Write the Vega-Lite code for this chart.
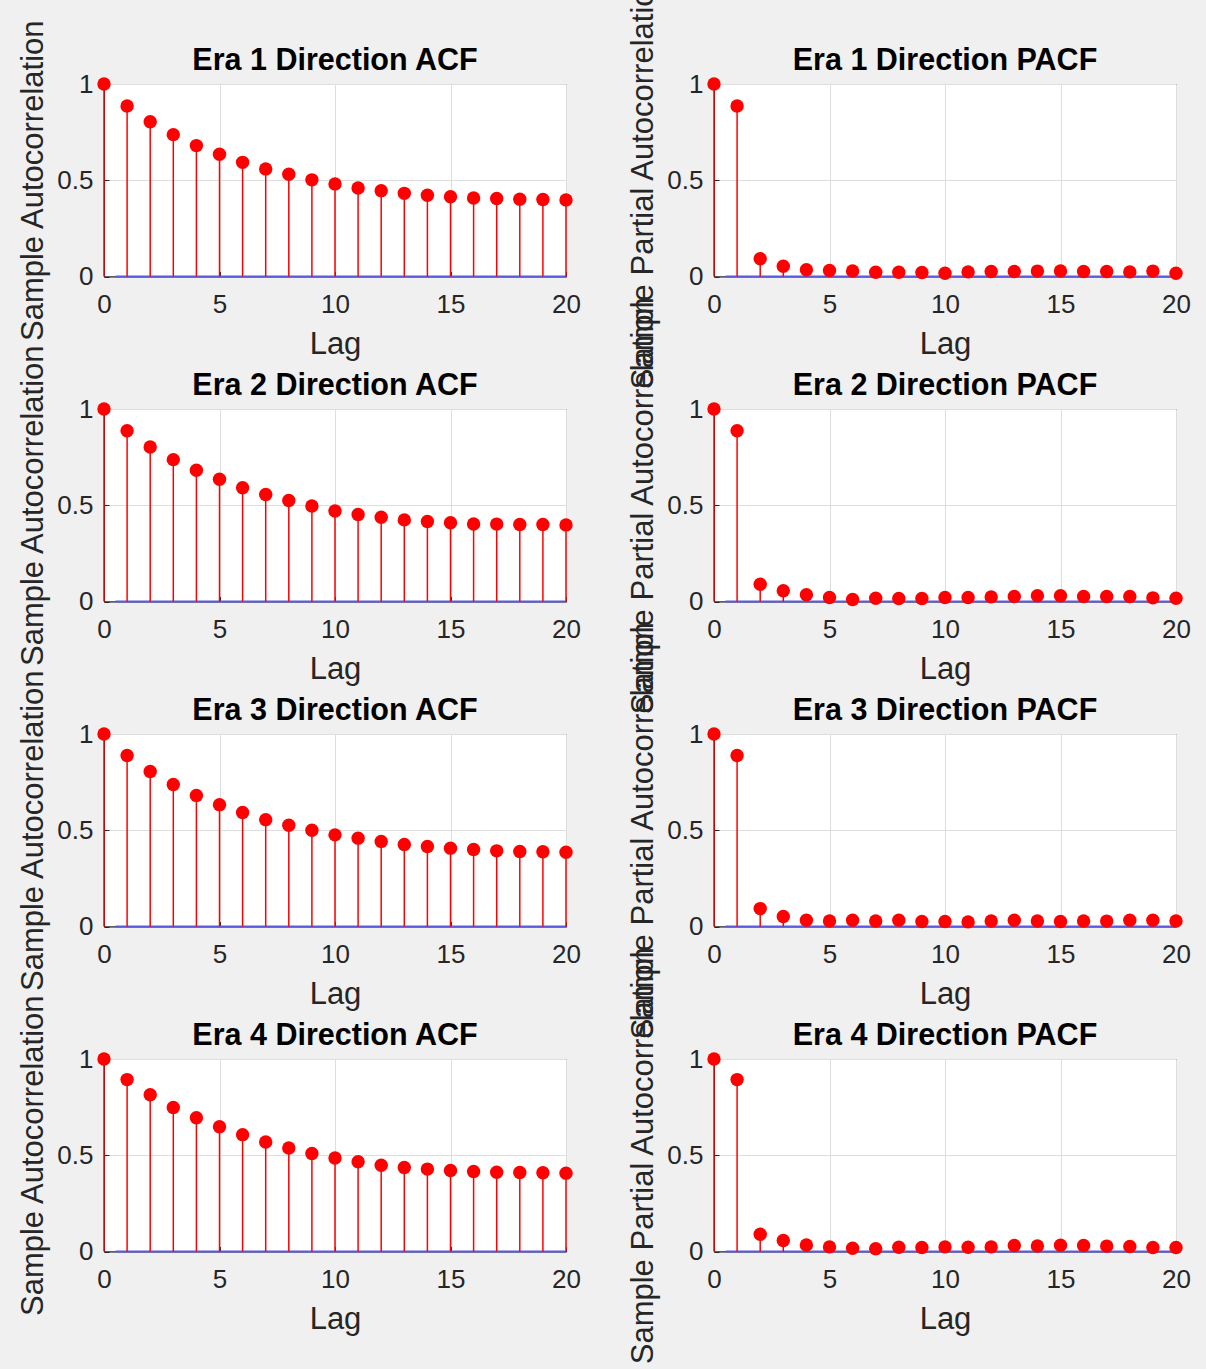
{
  "$schema": "https://vega.github.io/schema/vega-lite/v6.json",
  "background": "#f0f0f0",
  "padding": {"left": 17, "top": -30, "right": 20, "bottom": 5},
  "datasets": {
    "bounds": [{"lag": 0.5, "lagEnd": 20, "value": 0}],
    "acf": [
      {"era":1,"fn":"ACF","lag":0,"value":1},{"era":1,"fn":"ACF","lag":1,"value":0.886},{"era":1,"fn":"ACF","lag":2,"value":0.804},{"era":1,"fn":"ACF","lag":3,"value":0.737},{"era":1,"fn":"ACF","lag":4,"value":0.680},{"era":1,"fn":"ACF","lag":5,"value":0.635},{"era":1,"fn":"ACF","lag":6,"value":0.593},{"era":1,"fn":"ACF","lag":7,"value":0.559},{"era":1,"fn":"ACF","lag":8,"value":0.531},{"era":1,"fn":"ACF","lag":9,"value":0.502},{"era":1,"fn":"ACF","lag":10,"value":0.481},{"era":1,"fn":"ACF","lag":11,"value":0.460},{"era":1,"fn":"ACF","lag":12,"value":0.446},{"era":1,"fn":"ACF","lag":13,"value":0.432},{"era":1,"fn":"ACF","lag":14,"value":0.422},{"era":1,"fn":"ACF","lag":15,"value":0.414},{"era":1,"fn":"ACF","lag":16,"value":0.408},{"era":1,"fn":"ACF","lag":17,"value":0.405},{"era":1,"fn":"ACF","lag":18,"value":0.401},{"era":1,"fn":"ACF","lag":19,"value":0.400},{"era":1,"fn":"ACF","lag":20,"value":0.398},
      {"era":2,"fn":"ACF","lag":0,"value":1},{"era":2,"fn":"ACF","lag":1,"value":0.887},{"era":2,"fn":"ACF","lag":2,"value":0.803},{"era":2,"fn":"ACF","lag":3,"value":0.737},{"era":2,"fn":"ACF","lag":4,"value":0.682},{"era":2,"fn":"ACF","lag":5,"value":0.635},{"era":2,"fn":"ACF","lag":6,"value":0.591},{"era":2,"fn":"ACF","lag":7,"value":0.556},{"era":2,"fn":"ACF","lag":8,"value":0.525},{"era":2,"fn":"ACF","lag":9,"value":0.496},{"era":2,"fn":"ACF","lag":10,"value":0.470},{"era":2,"fn":"ACF","lag":11,"value":0.452},{"era":2,"fn":"ACF","lag":12,"value":0.438},{"era":2,"fn":"ACF","lag":13,"value":0.424},{"era":2,"fn":"ACF","lag":14,"value":0.416},{"era":2,"fn":"ACF","lag":15,"value":0.409},{"era":2,"fn":"ACF","lag":16,"value":0.403},{"era":2,"fn":"ACF","lag":17,"value":0.402},{"era":2,"fn":"ACF","lag":18,"value":0.400},{"era":2,"fn":"ACF","lag":19,"value":0.400},{"era":2,"fn":"ACF","lag":20,"value":0.398},
      {"era":3,"fn":"ACF","lag":0,"value":1},{"era":3,"fn":"ACF","lag":1,"value":0.888},{"era":3,"fn":"ACF","lag":2,"value":0.805},{"era":3,"fn":"ACF","lag":3,"value":0.738},{"era":3,"fn":"ACF","lag":4,"value":0.681},{"era":3,"fn":"ACF","lag":5,"value":0.633},{"era":3,"fn":"ACF","lag":6,"value":0.592},{"era":3,"fn":"ACF","lag":7,"value":0.555},{"era":3,"fn":"ACF","lag":8,"value":0.526},{"era":3,"fn":"ACF","lag":9,"value":0.500},{"era":3,"fn":"ACF","lag":10,"value":0.476},{"era":3,"fn":"ACF","lag":11,"value":0.459},{"era":3,"fn":"ACF","lag":12,"value":0.442},{"era":3,"fn":"ACF","lag":13,"value":0.426},{"era":3,"fn":"ACF","lag":14,"value":0.416},{"era":3,"fn":"ACF","lag":15,"value":0.407},{"era":3,"fn":"ACF","lag":16,"value":0.400},{"era":3,"fn":"ACF","lag":17,"value":0.393},{"era":3,"fn":"ACF","lag":18,"value":0.390},{"era":3,"fn":"ACF","lag":19,"value":0.388},{"era":3,"fn":"ACF","lag":20,"value":0.386},
      {"era":4,"fn":"ACF","lag":0,"value":1},{"era":4,"fn":"ACF","lag":1,"value":0.893},{"era":4,"fn":"ACF","lag":2,"value":0.814},{"era":4,"fn":"ACF","lag":3,"value":0.748},{"era":4,"fn":"ACF","lag":4,"value":0.695},{"era":4,"fn":"ACF","lag":5,"value":0.648},{"era":4,"fn":"ACF","lag":6,"value":0.607},{"era":4,"fn":"ACF","lag":7,"value":0.569},{"era":4,"fn":"ACF","lag":8,"value":0.538},{"era":4,"fn":"ACF","lag":9,"value":0.509},{"era":4,"fn":"ACF","lag":10,"value":0.486},{"era":4,"fn":"ACF","lag":11,"value":0.466},{"era":4,"fn":"ACF","lag":12,"value":0.448},{"era":4,"fn":"ACF","lag":13,"value":0.436},{"era":4,"fn":"ACF","lag":14,"value":0.428},{"era":4,"fn":"ACF","lag":15,"value":0.421},{"era":4,"fn":"ACF","lag":16,"value":0.416},{"era":4,"fn":"ACF","lag":17,"value":0.412},{"era":4,"fn":"ACF","lag":18,"value":0.410},{"era":4,"fn":"ACF","lag":19,"value":0.409},{"era":4,"fn":"ACF","lag":20,"value":0.407},
      {"era":1,"fn":"PACF","lag":0,"value":1},{"era":1,"fn":"PACF","lag":1,"value":0.886},{"era":1,"fn":"PACF","lag":2,"value":0.092},{"era":1,"fn":"PACF","lag":3,"value":0.053},{"era":1,"fn":"PACF","lag":4,"value":0.035},{"era":1,"fn":"PACF","lag":5,"value":0.031},{"era":1,"fn":"PACF","lag":6,"value":0.029},{"era":1,"fn":"PACF","lag":7,"value":0.022},{"era":1,"fn":"PACF","lag":8,"value":0.022},{"era":1,"fn":"PACF","lag":9,"value":0.021},{"era":1,"fn":"PACF","lag":10,"value":0.017},{"era":1,"fn":"PACF","lag":11,"value":0.024},{"era":1,"fn":"PACF","lag":12,"value":0.026},{"era":1,"fn":"PACF","lag":13,"value":0.026},{"era":1,"fn":"PACF","lag":14,"value":0.028},{"era":1,"fn":"PACF","lag":15,"value":0.029},{"era":1,"fn":"PACF","lag":16,"value":0.026},{"era":1,"fn":"PACF","lag":17,"value":0.026},{"era":1,"fn":"PACF","lag":18,"value":0.024},{"era":1,"fn":"PACF","lag":19,"value":0.028},{"era":1,"fn":"PACF","lag":20,"value":0.017},
      {"era":2,"fn":"PACF","lag":0,"value":1},{"era":2,"fn":"PACF","lag":1,"value":0.887},{"era":2,"fn":"PACF","lag":2,"value":0.090},{"era":2,"fn":"PACF","lag":3,"value":0.056},{"era":2,"fn":"PACF","lag":4,"value":0.035},{"era":2,"fn":"PACF","lag":5,"value":0.021},{"era":2,"fn":"PACF","lag":6,"value":0.010},{"era":2,"fn":"PACF","lag":7,"value":0.017},{"era":2,"fn":"PACF","lag":8,"value":0.016},{"era":2,"fn":"PACF","lag":9,"value":0.016},{"era":2,"fn":"PACF","lag":10,"value":0.021},{"era":2,"fn":"PACF","lag":11,"value":0.021},{"era":2,"fn":"PACF","lag":12,"value":0.024},{"era":2,"fn":"PACF","lag":13,"value":0.026},{"era":2,"fn":"PACF","lag":14,"value":0.030},{"era":2,"fn":"PACF","lag":15,"value":0.030},{"era":2,"fn":"PACF","lag":16,"value":0.026},{"era":2,"fn":"PACF","lag":17,"value":0.026},{"era":2,"fn":"PACF","lag":18,"value":0.026},{"era":2,"fn":"PACF","lag":19,"value":0.019},{"era":2,"fn":"PACF","lag":20,"value":0.017},
      {"era":3,"fn":"PACF","lag":0,"value":1},{"era":3,"fn":"PACF","lag":1,"value":0.888},{"era":3,"fn":"PACF","lag":2,"value":0.093},{"era":3,"fn":"PACF","lag":3,"value":0.052},{"era":3,"fn":"PACF","lag":4,"value":0.033},{"era":3,"fn":"PACF","lag":5,"value":0.029},{"era":3,"fn":"PACF","lag":6,"value":0.033},{"era":3,"fn":"PACF","lag":7,"value":0.029},{"era":3,"fn":"PACF","lag":8,"value":0.033},{"era":3,"fn":"PACF","lag":9,"value":0.026},{"era":3,"fn":"PACF","lag":10,"value":0.026},{"era":3,"fn":"PACF","lag":11,"value":0.024},{"era":3,"fn":"PACF","lag":12,"value":0.029},{"era":3,"fn":"PACF","lag":13,"value":0.033},{"era":3,"fn":"PACF","lag":14,"value":0.029},{"era":3,"fn":"PACF","lag":15,"value":0.026},{"era":3,"fn":"PACF","lag":16,"value":0.029},{"era":3,"fn":"PACF","lag":17,"value":0.028},{"era":3,"fn":"PACF","lag":18,"value":0.033},{"era":3,"fn":"PACF","lag":19,"value":0.033},{"era":3,"fn":"PACF","lag":20,"value":0.029},
      {"era":4,"fn":"PACF","lag":0,"value":1},{"era":4,"fn":"PACF","lag":1,"value":0.893},{"era":4,"fn":"PACF","lag":2,"value":0.090},{"era":4,"fn":"PACF","lag":3,"value":0.057},{"era":4,"fn":"PACF","lag":4,"value":0.034},{"era":4,"fn":"PACF","lag":5,"value":0.024},{"era":4,"fn":"PACF","lag":6,"value":0.017},{"era":4,"fn":"PACF","lag":7,"value":0.014},{"era":4,"fn":"PACF","lag":8,"value":0.022},{"era":4,"fn":"PACF","lag":9,"value":0.021},{"era":4,"fn":"PACF","lag":10,"value":0.024},{"era":4,"fn":"PACF","lag":11,"value":0.022},{"era":4,"fn":"PACF","lag":12,"value":0.024},{"era":4,"fn":"PACF","lag":13,"value":0.031},{"era":4,"fn":"PACF","lag":14,"value":0.029},{"era":4,"fn":"PACF","lag":15,"value":0.033},{"era":4,"fn":"PACF","lag":16,"value":0.031},{"era":4,"fn":"PACF","lag":17,"value":0.028},{"era":4,"fn":"PACF","lag":18,"value":0.026},{"era":4,"fn":"PACF","lag":19,"value":0.021},{"era":4,"fn":"PACF","lag":20,"value":0.021}
    ]
  },
  "columns": 2,
  "bounds": "flush",
  "spacing": {"row": 132, "column": 148},
  "concat": [
    {
      "title": {"text": "Era 1 Direction ACF", "offset": -57}, "width": 462, "height": 192.5,
      "encoding": {
        "x": {"field": "lag", "type": "quantitative", "scale": {"domain": [0, 20], "nice": false, "zero": false}, "axis": {"title": "Lag", "values": [0, 5, 10, 15, 20], "format": "d"}},
        "y": {"field": "value", "type": "quantitative", "scale": {"domain": [0, 1], "nice": false}, "axis": {"title": "Sample Autocorrelation", "values": [0, 0.5, 1], "format": "~g"}}
      },
      "layer": [
        {"data": {"name": "bounds"}, "mark": {"type": "rule", "color": "#5b5be0", "strokeWidth": 2}, "encoding": {"x2": {"field": "lagEnd"}}},
        {"data": {"name": "acf"}, "transform": [{"filter": "datum.era === 1 && datum.fn === 'ACF'"}], "mark": {"type": "rule", "color": "#ff0000", "strokeWidth": 1.5}, "encoding": {"y2": {"datum": 0}}},
        {"data": {"name": "acf"}, "transform": [{"filter": "datum.era === 1 && datum.fn === 'ACF'"}], "mark": {"type": "circle", "color": "#ff0000", "size": 180, "opacity": 1}}
      ]
    },
    {
      "title": {"text": "Era 1 Direction PACF", "offset": -106}, "width": 462, "height": 192.5,
      "encoding": {
        "x": {"field": "lag", "type": "quantitative", "scale": {"domain": [0, 20], "nice": false, "zero": false}, "axis": {"title": "Lag", "values": [0, 5, 10, 15, 20], "format": "d"}},
        "y": {"field": "value", "type": "quantitative", "scale": {"domain": [0, 1], "nice": false}, "axis": {"title": "Sample Partial Autocorrelation", "values": [0, 0.5, 1], "format": "~g"}}
      },
      "layer": [
        {"data": {"name": "bounds"}, "mark": {"type": "rule", "color": "#5b5be0", "strokeWidth": 2}, "encoding": {"x2": {"field": "lagEnd"}}},
        {"data": {"name": "acf"}, "transform": [{"filter": "datum.era === 1 && datum.fn === 'PACF'"}], "mark": {"type": "rule", "color": "#ff0000", "strokeWidth": 1.5}, "encoding": {"y2": {"datum": 0}}},
        {"data": {"name": "acf"}, "transform": [{"filter": "datum.era === 1 && datum.fn === 'PACF'"}], "mark": {"type": "circle", "color": "#ff0000", "size": 180, "opacity": 1}}
      ]
    },
    {
      "title": {"text": "Era 2 Direction ACF", "offset": -57}, "width": 462, "height": 192.5,
      "encoding": {
        "x": {"field": "lag", "type": "quantitative", "scale": {"domain": [0, 20], "nice": false, "zero": false}, "axis": {"title": "Lag", "values": [0, 5, 10, 15, 20], "format": "d"}},
        "y": {"field": "value", "type": "quantitative", "scale": {"domain": [0, 1], "nice": false}, "axis": {"title": "Sample Autocorrelation", "values": [0, 0.5, 1], "format": "~g"}}
      },
      "layer": [
        {"data": {"name": "bounds"}, "mark": {"type": "rule", "color": "#5b5be0", "strokeWidth": 2}, "encoding": {"x2": {"field": "lagEnd"}}},
        {"data": {"name": "acf"}, "transform": [{"filter": "datum.era === 2 && datum.fn === 'ACF'"}], "mark": {"type": "rule", "color": "#ff0000", "strokeWidth": 1.5}, "encoding": {"y2": {"datum": 0}}},
        {"data": {"name": "acf"}, "transform": [{"filter": "datum.era === 2 && datum.fn === 'ACF'"}], "mark": {"type": "circle", "color": "#ff0000", "size": 180, "opacity": 1}}
      ]
    },
    {
      "title": {"text": "Era 2 Direction PACF", "offset": -106}, "width": 462, "height": 192.5,
      "encoding": {
        "x": {"field": "lag", "type": "quantitative", "scale": {"domain": [0, 20], "nice": false, "zero": false}, "axis": {"title": "Lag", "values": [0, 5, 10, 15, 20], "format": "d"}},
        "y": {"field": "value", "type": "quantitative", "scale": {"domain": [0, 1], "nice": false}, "axis": {"title": "Sample Partial Autocorrelation", "values": [0, 0.5, 1], "format": "~g"}}
      },
      "layer": [
        {"data": {"name": "bounds"}, "mark": {"type": "rule", "color": "#5b5be0", "strokeWidth": 2}, "encoding": {"x2": {"field": "lagEnd"}}},
        {"data": {"name": "acf"}, "transform": [{"filter": "datum.era === 2 && datum.fn === 'PACF'"}], "mark": {"type": "rule", "color": "#ff0000", "strokeWidth": 1.5}, "encoding": {"y2": {"datum": 0}}},
        {"data": {"name": "acf"}, "transform": [{"filter": "datum.era === 2 && datum.fn === 'PACF'"}], "mark": {"type": "circle", "color": "#ff0000", "size": 180, "opacity": 1}}
      ]
    },
    {
      "title": {"text": "Era 3 Direction ACF", "offset": -57}, "width": 462, "height": 192.5,
      "encoding": {
        "x": {"field": "lag", "type": "quantitative", "scale": {"domain": [0, 20], "nice": false, "zero": false}, "axis": {"title": "Lag", "values": [0, 5, 10, 15, 20], "format": "d"}},
        "y": {"field": "value", "type": "quantitative", "scale": {"domain": [0, 1], "nice": false}, "axis": {"title": "Sample Autocorrelation", "values": [0, 0.5, 1], "format": "~g"}}
      },
      "layer": [
        {"data": {"name": "bounds"}, "mark": {"type": "rule", "color": "#5b5be0", "strokeWidth": 2}, "encoding": {"x2": {"field": "lagEnd"}}},
        {"data": {"name": "acf"}, "transform": [{"filter": "datum.era === 3 && datum.fn === 'ACF'"}], "mark": {"type": "rule", "color": "#ff0000", "strokeWidth": 1.5}, "encoding": {"y2": {"datum": 0}}},
        {"data": {"name": "acf"}, "transform": [{"filter": "datum.era === 3 && datum.fn === 'ACF'"}], "mark": {"type": "circle", "color": "#ff0000", "size": 180, "opacity": 1}}
      ]
    },
    {
      "title": {"text": "Era 3 Direction PACF", "offset": -106}, "width": 462, "height": 192.5,
      "encoding": {
        "x": {"field": "lag", "type": "quantitative", "scale": {"domain": [0, 20], "nice": false, "zero": false}, "axis": {"title": "Lag", "values": [0, 5, 10, 15, 20], "format": "d"}},
        "y": {"field": "value", "type": "quantitative", "scale": {"domain": [0, 1], "nice": false}, "axis": {"title": "Sample Partial Autocorrelation", "values": [0, 0.5, 1], "format": "~g"}}
      },
      "layer": [
        {"data": {"name": "bounds"}, "mark": {"type": "rule", "color": "#5b5be0", "strokeWidth": 2}, "encoding": {"x2": {"field": "lagEnd"}}},
        {"data": {"name": "acf"}, "transform": [{"filter": "datum.era === 3 && datum.fn === 'PACF'"}], "mark": {"type": "rule", "color": "#ff0000", "strokeWidth": 1.5}, "encoding": {"y2": {"datum": 0}}},
        {"data": {"name": "acf"}, "transform": [{"filter": "datum.era === 3 && datum.fn === 'PACF'"}], "mark": {"type": "circle", "color": "#ff0000", "size": 180, "opacity": 1}}
      ]
    },
    {
      "title": {"text": "Era 4 Direction ACF", "offset": -57}, "width": 462, "height": 192.5,
      "encoding": {
        "x": {"field": "lag", "type": "quantitative", "scale": {"domain": [0, 20], "nice": false, "zero": false}, "axis": {"title": "Lag", "values": [0, 5, 10, 15, 20], "format": "d"}},
        "y": {"field": "value", "type": "quantitative", "scale": {"domain": [0, 1], "nice": false}, "axis": {"title": "Sample Autocorrelation", "values": [0, 0.5, 1], "format": "~g"}}
      },
      "layer": [
        {"data": {"name": "bounds"}, "mark": {"type": "rule", "color": "#5b5be0", "strokeWidth": 2}, "encoding": {"x2": {"field": "lagEnd"}}},
        {"data": {"name": "acf"}, "transform": [{"filter": "datum.era === 4 && datum.fn === 'ACF'"}], "mark": {"type": "rule", "color": "#ff0000", "strokeWidth": 1.5}, "encoding": {"y2": {"datum": 0}}},
        {"data": {"name": "acf"}, "transform": [{"filter": "datum.era === 4 && datum.fn === 'ACF'"}], "mark": {"type": "circle", "color": "#ff0000", "size": 180, "opacity": 1}}
      ]
    },
    {
      "title": {"text": "Era 4 Direction PACF", "offset": -106}, "width": 462, "height": 192.5,
      "encoding": {
        "x": {"field": "lag", "type": "quantitative", "scale": {"domain": [0, 20], "nice": false, "zero": false}, "axis": {"title": "Lag", "values": [0, 5, 10, 15, 20], "format": "d"}},
        "y": {"field": "value", "type": "quantitative", "scale": {"domain": [0, 1], "nice": false}, "axis": {"title": "Sample Partial Autocorrelation", "values": [0, 0.5, 1], "format": "~g"}}
      },
      "layer": [
        {"data": {"name": "bounds"}, "mark": {"type": "rule", "color": "#5b5be0", "strokeWidth": 2}, "encoding": {"x2": {"field": "lagEnd"}}},
        {"data": {"name": "acf"}, "transform": [{"filter": "datum.era === 4 && datum.fn === 'PACF'"}], "mark": {"type": "rule", "color": "#ff0000", "strokeWidth": 1.5}, "encoding": {"y2": {"datum": 0}}},
        {"data": {"name": "acf"}, "transform": [{"filter": "datum.era === 4 && datum.fn === 'PACF'"}], "mark": {"type": "circle", "color": "#ff0000", "size": 180, "opacity": 1}}
      ]
    }
  ],
  "config": {
    "font": "Liberation Sans",
    "view": {"fill": "white", "stroke": "#262626", "strokeWidth": 1},
    "title": {"font": "Liberation Sans", "fontSize": 30.5, "fontWeight": "bold", "color": "#000000", "frame": "group", "anchor": "middle"},
    "axis": {
      "labelFont": "Liberation Sans", "titleFont": "Liberation Sans",
      "labelFontSize": 26, "titleFontSize": 31, "titleFontWeight": "normal",
      "labelColor": "#262626", "titleColor": "#262626",
      "domainColor": "#262626", "tickColor": "#262626", "tickSize": -5,
      "gridColor": "#dedede", "labelFlush": false, "labelOverlap": false
    },
    "axisX": {"labelPadding": 20, "titlePadding": 12},
    "axisY": {"labelPadding": 16, "titlePadding": 7}
  }
}
